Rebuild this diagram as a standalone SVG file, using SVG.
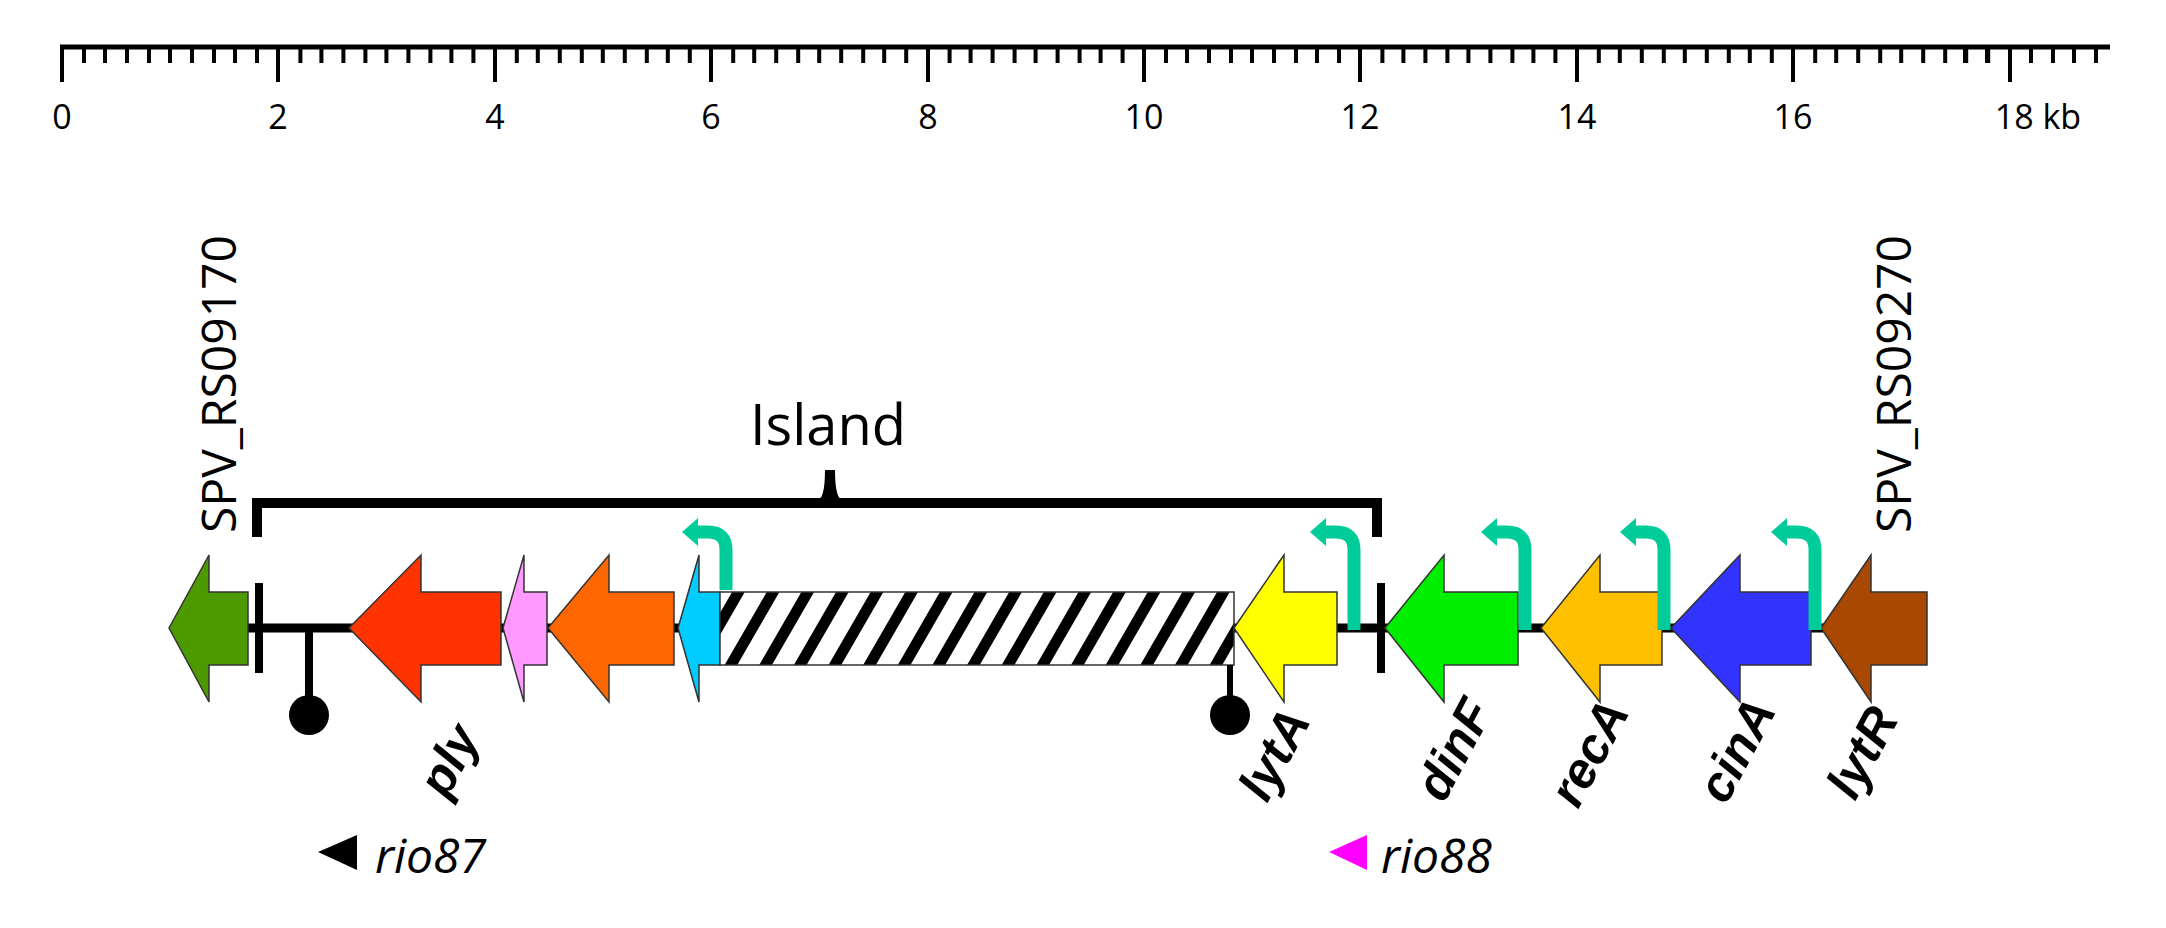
<svg xmlns="http://www.w3.org/2000/svg" width="2166" height="928" viewBox="0 0 2166 928">
<style>
.gene{stroke:#333;stroke-width:1.5}
.prom{fill:none;stroke:#00CC99;stroke-width:13}
.ph{fill:#00CC99}
.lab{font-family:"Open Sans",sans-serif;fill:#000}
.gl{font-family:"Liberation Sans",Arial,sans-serif;font-weight:bold;font-style:italic;font-size:50px}
.rio{font-family:"Open Sans",sans-serif;font-style:italic;font-size:48px}
</style>
<defs>
<pattern id="hatch" width="30" height="30" patternUnits="userSpaceOnUse" patternTransform="rotate(30)">
<rect width="30" height="30" fill="#fff"/><rect x="0" y="0" width="11" height="30" fill="#000"/>
</pattern>
</defs>
<g id="ruler">
<line x1="60" y1="47" x2="2110" y2="47" stroke="#000" stroke-width="5"/>
<path id="minor" d="M84 47V63M105 47V63M127 47V63M149 47V63M170 47V63M192 47V63M214 47V63M235 47V63M257 47V63" stroke="#000" stroke-width="4"/>
<use href="#minor" x="216.4"/><use href="#minor" x="432.8"/><use href="#minor" x="649.2"/><use href="#minor" x="865.6"/><use href="#minor" x="1082"/><use href="#minor" x="1298.4"/><use href="#minor" x="1514.8"/><use href="#minor" x="1731.2"/>
<path d="M1965 47V63M1987 47V63M2031 47V63M2053 47V63M2074 47V63M2096 47V63" stroke="#000" stroke-width="4"/>
<path d="M62 45V82M278 45V82M495 45V82M711 45V82M928 45V82M1144 45V82M1360 45V82M1577 45V82M1793 45V82M2010 45V82" stroke="#000" stroke-width="4"/>
<g class="lab" font-size="34" text-anchor="middle">
<text x="62" y="129">0</text><text x="278" y="129">2</text><text x="495" y="129">4</text><text x="711" y="129">6</text><text x="928" y="129">8</text><text x="1144" y="129">10</text><text x="1360" y="129">12</text><text x="1577" y="129">14</text><text x="1793" y="129">16</text><text x="2038" y="129">18 kb</text>
</g>
</g>
<g id="connectors">
<line x1="240" y1="628" x2="1830" y2="628" stroke="#000" stroke-width="9"/>
<rect x="255" y="583" width="8" height="90" fill="#000"/>
<rect x="1377" y="583" width="8" height="90" fill="#000"/>
<path d="M257 537V503H1377V537" fill="none" stroke="#000" stroke-width="10"/>
<path d="M820 503Q830 503 830 470Q830 503 840 503" fill="none" stroke="#000" stroke-width="10"/>
</g>
<g id="island-label"><text class="lab" x="828" y="445" font-size="56" text-anchor="middle">Island</text></g>
<g id="SPV_RS09170"><polygon class="gene" fill="#4C9900" points="169,628 209,555 209,592 248,592 248,665 209,665 209,702"/>
<text class="lab" font-size="48" transform="translate(236,533) rotate(-90)">SPV_RS09170</text></g>
<g id="term1"><line x1="309" y1="628" x2="309" y2="705" stroke="#000" stroke-width="8"/><circle cx="309" cy="715" r="20" fill="#000"/></g>
<g id="ply"><polygon class="gene" fill="#FF3300" points="349,628 421,555 421,592 501,592 501,665 421,665 421,702"/>
<text class="gl" transform="translate(447,800) rotate(-62)">ply</text></g>
<g id="pink"><polygon class="gene" fill="#FF99FF" points="503,628 524,555 524,592 547,592 547,665 524,665 524,702"/></g>
<g id="orange"><polygon class="gene" fill="#FF6600" points="548,628 609,555 609,592 674,592 674,665 609,665 609,702"/></g>
<g id="cyan"><polygon class="gene" fill="#00CCFF" points="678,628 699,555 699,592 720,592 720,665 699,665 699,702"/></g>
<g id="hatched"><rect x="720" y="592" width="514" height="73" fill="url(#hatch)" stroke="#333" stroke-width="1.5"/></g>
<g id="term2"><line x1="1230" y1="665" x2="1230" y2="705" stroke="#000" stroke-width="6"/><circle cx="1230" cy="715" r="20" fill="#000"/></g>
<g id="lytA"><polygon class="gene" fill="#FFFF00" points="1234,628 1284,555 1284,592 1337,592 1337,665 1284,665 1284,702"/>
<text class="gl" transform="translate(1267,804) rotate(-62)">lytA</text></g>
<g id="dinF"><polygon class="gene" fill="#00EE00" points="1385,628 1444,555 1444,592 1518,592 1518,665 1444,665 1444,702"/>
<text class="gl" transform="translate(1444,804) rotate(-62)">dinF</text></g>
<g id="recA"><polygon class="gene" fill="#FFC000" points="1541,628 1600,555 1600,592 1662,592 1662,665 1600,665 1600,702"/>
<text class="gl" transform="translate(1578,810) rotate(-62)">recA</text></g>
<g id="cinA"><polygon class="gene" fill="#3333FF" points="1671,628 1740,555 1740,592 1811,592 1811,665 1740,665 1740,702"/>
<text class="gl" transform="translate(1726,806) rotate(-62)">cinA</text></g>
<g id="lytR"><polygon class="gene" fill="#A94800" points="1821,628 1871,555 1871,592 1927,592 1927,665 1871,665 1871,702"/>
<text class="gl" transform="translate(1855,802) rotate(-62)">lytR</text></g>
<g id="SPV_RS09270"><text class="lab" font-size="48" transform="translate(1911,533) rotate(-90)">SPV_RS09270</text></g>
<g id="promoters">
<path class="prom" d="M726 590V550Q726 532 708 532H696"/><polygon class="ph" points="698,518 682,532 698,546"/>
<path class="prom" d="M1354 630V550Q1354 532 1336 532H1324"/><polygon class="ph" points="1326,518 1310,532 1326,546"/>
<path class="prom" d="M1525 630V550Q1525 532 1507 532H1495"/><polygon class="ph" points="1497,518 1481,532 1497,546"/>
<path class="prom" d="M1664 630V550Q1664 532 1646 532H1634"/><polygon class="ph" points="1636,518 1620,532 1636,546"/>
<path class="prom" d="M1815 630V550Q1815 532 1797 532H1785"/><polygon class="ph" points="1787,518 1771,532 1787,546"/>
</g>
<g id="rio87"><polygon points="357,835 318,852 357,870" fill="#000"/><text class="rio" x="375" y="873">rio87</text></g>
<g id="rio88"><polygon points="1367,835 1329,852 1367,870" fill="#FF00FF"/><text class="rio" x="1381" y="873">rio88</text></g>
</svg>
